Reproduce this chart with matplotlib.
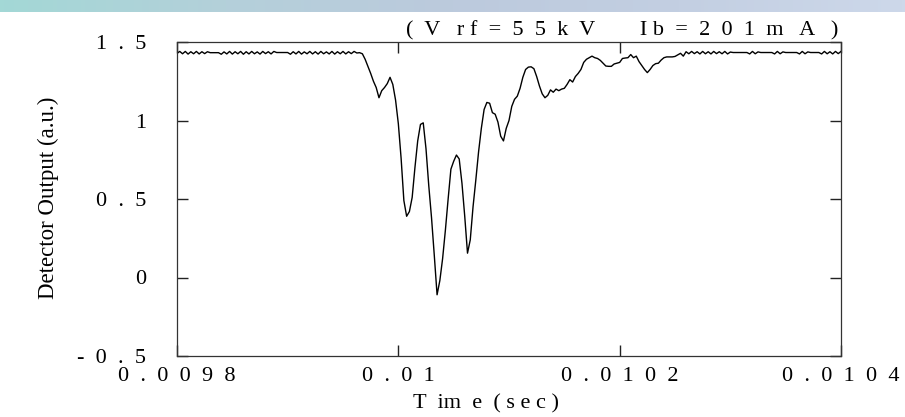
import numpy as np
import matplotlib
matplotlib.use("Agg")
import matplotlib.pyplot as plt
from matplotlib.colors import LinearSegmentedColormap

# Detector trace, sampled every 2.5 microseconds from t = 9.8 ms
t_start = 0.0098
dt = 2.5e-6

baseline_left = [
    1.428, 1.44, 1.425, 1.44, 1.423, 1.438, 1.425, 1.44, 1.424, 1.438, 1.426, 1.438,
    1.432, 1.432, 1.432, 1.432,
    1.422, 1.437, 1.424, 1.44, 1.423, 1.438, 1.425, 1.44, 1.422, 1.438, 1.424, 1.44,
    1.425, 1.437, 1.423, 1.44, 1.426, 1.438, 1.424, 1.44,
    1.433, 1.433, 1.433, 1.433, 1.433,
    1.422, 1.438, 1.424, 1.44, 1.423, 1.437, 1.425, 1.44, 1.424, 1.438, 1.423, 1.44,
    1.425, 1.437, 1.424, 1.44, 1.423, 1.438, 1.425, 1.44, 1.424, 1.438, 1.426, 1.44,
    1.43, 1.432,
]

pulse = [
    1.425, 1.39, 1.345, 1.30, 1.25, 1.21, 1.145, 1.19, 1.21, 1.235,
    1.275, 1.23, 1.13, 0.98, 0.76, 0.49, 0.39, 0.42, 0.51, 0.70,
    0.87, 0.975, 0.985, 0.82, 0.585, 0.38, 0.14, -0.11, -0.02, 0.12,
    0.30, 0.50, 0.69, 0.74, 0.78, 0.755, 0.60, 0.39, 0.155, 0.24,
    0.45, 0.62, 0.80, 0.95, 1.07, 1.115, 1.11, 1.05, 1.04, 0.99,
    0.90, 0.87, 0.95, 1.00, 1.09, 1.135, 1.155, 1.205, 1.275, 1.325,
    1.34, 1.342, 1.33, 1.28, 1.22, 1.17, 1.145, 1.16, 1.195, 1.18,
    1.20, 1.19, 1.20, 1.205, 1.23, 1.26, 1.245, 1.28, 1.30, 1.325,
    1.37, 1.39, 1.40, 1.41, 1.40, 1.395, 1.383, 1.365, 1.347, 1.345,
    1.345, 1.36, 1.365, 1.37, 1.395, 1.398, 1.40, 1.42, 1.40, 1.41,
    1.375, 1.35, 1.325, 1.305, 1.325, 1.35, 1.362, 1.365, 1.385, 1.40,
    1.405, 1.405, 1.405, 1.408, 1.418, 1.428, 1.41, 1.438,
]

baseline_right = [
    1.425, 1.44, 1.426, 1.438, 1.424, 1.44, 1.425, 1.438, 1.424, 1.44, 1.426, 1.438,
    1.425, 1.44, 1.424, 1.436,
    1.433, 1.433, 1.433, 1.433, 1.433, 1.433,
    1.424, 1.44, 1.425, 1.437,
    1.433, 1.433, 1.433, 1.433, 1.433,
    1.424, 1.44, 1.425, 1.437,
    1.433, 1.433, 1.433, 1.433, 1.433,
    1.424, 1.44, 1.425, 1.437,
    1.433, 1.433, 1.433, 1.433,
    1.424, 1.44, 1.425, 1.438, 1.424, 1.44, 1.426, 1.44,
]

signal = np.array(baseline_left + pulse + baseline_right)
time = t_start + dt * np.arange(signal.size)

x_ticks = [0.0098, 0.0100, 0.0102, 0.0104]
x_tick_labels = ["0  .  0  0  9  8", "0  .  0  1", "0  .  0  1  0  2", "0  .  0  1  0  4"]
y_ticks = [-0.5, 0.0, 0.5, 1.0, 1.5]
y_tick_labels = ["-  0  .  5", "0", "0  .  5", "1", "1  .  5"]

title_text = "(  V   r f  =  5  5  k  V        I b  =  2  0  1  m   A   )"
x_label = "T  im  e  ( s e c )"
y_label = "Detector Output (a.u.)"

serif = ["Liberation Serif", "DejaVu Serif"]
plt.rcParams["font.family"] = serif

W, H = 905, 417
fig = plt.figure(figsize=(W / 100, H / 100), dpi=100)
fig.patch.set_facecolor("white")

# pale banner strip along the top edge
band = fig.add_axes([0, 1 - 12 / H, 1, 12 / H])
band_cmap = LinearSegmentedColormap.from_list(
    "band", ["#a3d8d6", "#b4d0da", "#bccadd", "#c3cfe2", "#cdd8ea"])
band.imshow(np.linspace(0, 1, 256)[None, :], aspect="auto", cmap=band_cmap,
            extent=[0, 1, 0, 1])
band.set_axis_off()

ax = fig.add_axes([177 / W, (H - 356) / H, 664 / W, 314 / H])
ax.plot(time, signal, color="black", lw=1.0)

ax.set_xlim(0.0098, 0.0104)
ax.set_ylim(-0.5, 1.5)
ax.set_xticks(x_ticks)
ax.set_xticklabels(x_tick_labels)
ax.set_yticks(y_ticks)
ax.set_yticklabels(y_tick_labels)

ax.tick_params(axis="both", direction="in", length=8, width=1.0, color="#222222",
               labelsize=16, top=True, right=True)
ax.tick_params(axis="x", pad=8)
ax.tick_params(axis="y", pad=22)
for sp in ax.spines.values():
    sp.set_linewidth(0.9)
    sp.set_color("#333333")

fig.text(838 / W, 1 - 35 / H, title_text, ha="right", va="baseline", fontsize=16)
fig.text(486 / W, 1 - 408 / H, x_label, ha="center", va="baseline", fontsize=16)
fig.text(48 / W, 1 - 198 / H, y_label, ha="center", va="center", rotation=90,
         fontsize=16.5)

fig.savefig("out.png", dpi=100)
